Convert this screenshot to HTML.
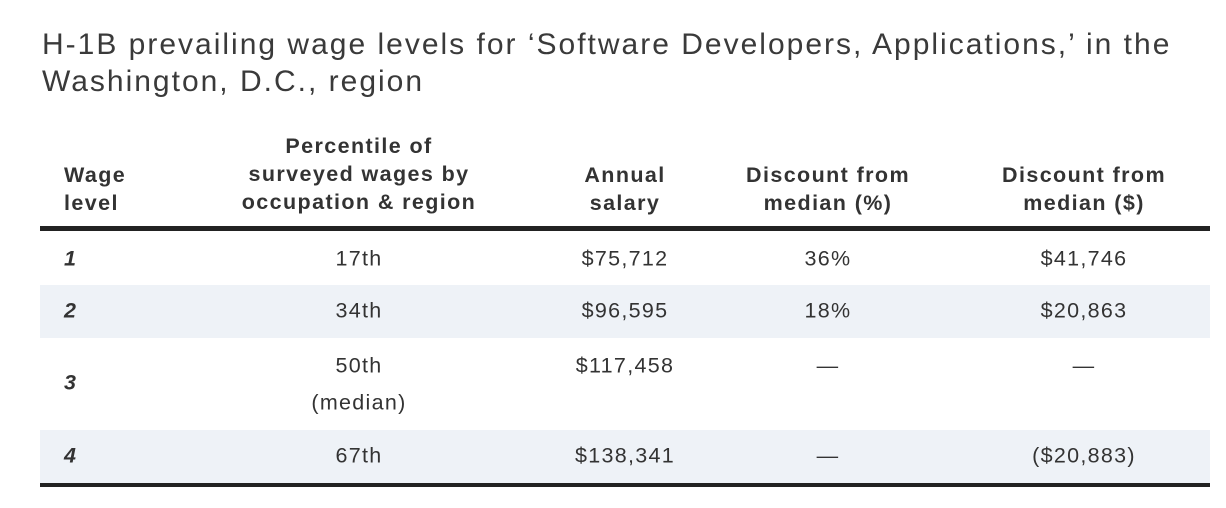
<!DOCTYPE html>
<html><head><meta charset="utf-8"><style>
body{margin:0;width:1226px;height:508px;background:#fff;font-family:"Liberation Sans",sans-serif;color:#333;position:relative;overflow:hidden}
.a{position:absolute;white-space:nowrap}
.t{left:42px;font-size:30px;letter-spacing:2px;color:#3a3a3a;line-height:37px}
.h{font-weight:bold;font-size:21.5px;letter-spacing:1.4px;line-height:28px;text-align:center;transform:translateX(-50%);color:#333}
.c{font-size:21.5px;letter-spacing:1.3px;transform:translate(-50%,-50%);color:#333}
.bar{position:absolute;left:40px;width:1170px}
</style></head><body>
<div class="a t" style="top:26px">H-1B prevailing wage levels for ‘Software Developers, Applications,’ in the<br>Washington, D.C., region</div>
<div class="a h" style="left:64px;top:161px;text-align:left;transform:none">Wage<br>level</div>
<div class="a h" style="left:359px;top:132px">Percentile of<br>surveyed wages by<br>occupation &amp; region</div>
<div class="a h" style="left:625px;top:161px">Annual<br>salary</div>
<div class="a h" style="left:828px;top:161px">Discount from<br>median (%)</div>
<div class="a h" style="left:1084px;top:161px">Discount from<br>median ($)</div>
<div class="bar" style="top:226px;height:5px;background:#222"></div>
<div class="bar" style="top:285px;height:53px;background:#eef2f7"></div>
<div class="bar" style="top:430px;height:53px;background:#eef2f7"></div>
<div class="bar" style="top:483px;height:4px;background:#222"></div>
<div id="rows"></div>
<script>
const levels=["1","2","3","4"];
const percentiles=["17th","34th","50th","67th"];
const salaries=["$75,712","$96,595","$117,458","$138,341"];
const discPct=["36%","18%","—","—"];
const discUsd=["$41,746","$20,863","—","($20,883)"];
const rowY=[259,311,366,456];
const levY=[259,311,383,456];
const cols=[359,625,828,1084];
const root=document.getElementById('rows');
function cell(txt,x,y,extra,name){
 const d=document.createElement('div');
 d.className='a c';d.textContent=txt;
 d.style.left=x+'px';d.style.top=y+'px';
 if(extra)d.style.cssText+=extra;
 
 
 root.appendChild(d);
}
levels.forEach((l,i)=>{
 cell(l,64,levY[i],'transform:translateY(-50%);font-weight:bold;font-style:italic;','wage-level-'+l);
 cell(percentiles[i],cols[0],rowY[i],'','percentile-'+l);
 cell(salaries[i],cols[1],rowY[i],'','salary-'+l);
 cell(discPct[i],cols[2],rowY[i],'','discount-pct-'+l);
 cell(discUsd[i],cols[3],rowY[i],'','discount-usd-'+l);
});
cell("(median)",cols[0],403,'','median-note');
</script>
</body></html>
